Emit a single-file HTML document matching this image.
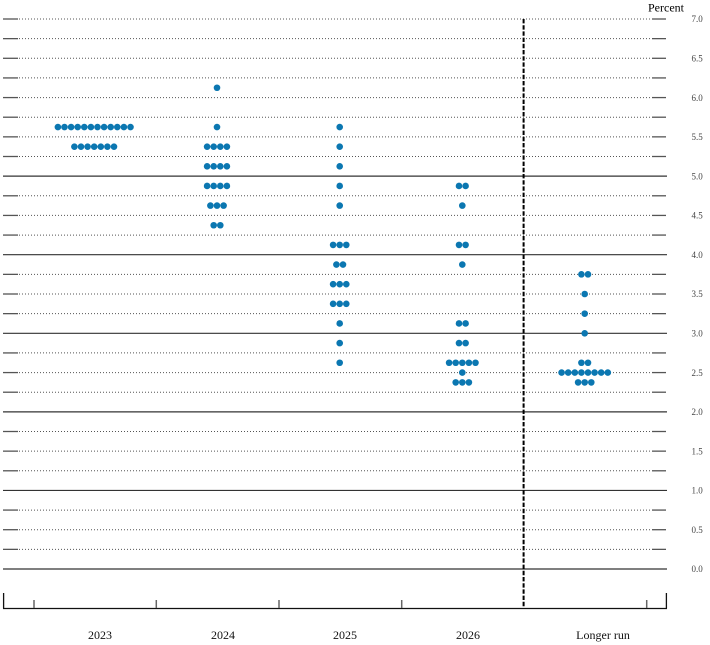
<!DOCTYPE html>
<html>
<head>
<meta charset="utf-8">
<style>
html,body{margin:0;padding:0;background:#fff;}
svg{display:block;}
text{font-family:"Liberation Serif",serif;}
</style>
</head>
<body>
<svg width="710" height="645" viewBox="0 0 710 645" xmlns="http://www.w3.org/2000/svg">
<rect width="710" height="645" fill="#fff"/>
<g id="grid" stroke-width="1">
<!-- dotted lines -->
<g stroke="#555" stroke-dasharray="1,2">
<line x1="19" x2="652" y1="19" y2="19"/>
<line x1="19" x2="652" y1="38.64" y2="38.64"/>
<line x1="19" x2="652" y1="58.29" y2="58.29"/>
<line x1="19" x2="652" y1="77.93" y2="77.93"/>
<line x1="19" x2="652" y1="97.57" y2="97.57"/>
<line x1="19" x2="652" y1="117.21" y2="117.21"/>
<line x1="19" x2="652" y1="136.86" y2="136.86"/>
<line x1="19" x2="652" y1="156.5" y2="156.5"/>
<line x1="19" x2="652" y1="195.79" y2="195.79"/>
<line x1="19" x2="652" y1="215.43" y2="215.43"/>
<line x1="19" x2="652" y1="235.07" y2="235.07"/>
<line x1="19" x2="652" y1="274.36" y2="274.36"/>
<line x1="19" x2="652" y1="294" y2="294"/>
<line x1="19" x2="652" y1="313.64" y2="313.64"/>
<line x1="19" x2="652" y1="352.93" y2="352.93"/>
<line x1="19" x2="652" y1="372.57" y2="372.57"/>
<line x1="19" x2="652" y1="392.21" y2="392.21"/>
<line x1="19" x2="652" y1="431.5" y2="431.5"/>
<line x1="19" x2="652" y1="451.14" y2="451.14"/>
<line x1="19" x2="652" y1="470.79" y2="470.79"/>
<line x1="19" x2="652" y1="510.07" y2="510.07"/>
<line x1="19" x2="652" y1="529.71" y2="529.71"/>
<line x1="19" x2="652" y1="549.36" y2="549.36"/>
</g>
<!-- solid integer lines -->
<g stroke="#333" stroke-width="1.2">
<line x1="3" x2="667" y1="176.14" y2="176.14"/>
<line x1="3" x2="667" y1="254.71" y2="254.71"/>
<line x1="3" x2="667" y1="333.29" y2="333.29"/>
<line x1="3" x2="667" y1="411.86" y2="411.86"/>
<line x1="3" x2="667" y1="490.43" y2="490.43"/>
<line x1="3" x2="667" y1="569" y2="569"/>
</g>
<!-- left & right ticks -->
<g stroke="#555" stroke-width="1.3">
<line x1="3" x2="18" y1="19" y2="19"/><line x1="652" x2="666" y1="19" y2="19"/>
<line x1="3" x2="18" y1="38.64" y2="38.64"/><line x1="652" x2="666" y1="38.64" y2="38.64"/>
<line x1="3" x2="18" y1="58.29" y2="58.29"/><line x1="652" x2="666" y1="58.29" y2="58.29"/>
<line x1="3" x2="18" y1="77.93" y2="77.93"/><line x1="652" x2="666" y1="77.93" y2="77.93"/>
<line x1="3" x2="18" y1="97.57" y2="97.57"/><line x1="652" x2="666" y1="97.57" y2="97.57"/>
<line x1="3" x2="18" y1="117.21" y2="117.21"/><line x1="652" x2="666" y1="117.21" y2="117.21"/>
<line x1="3" x2="18" y1="136.86" y2="136.86"/><line x1="652" x2="666" y1="136.86" y2="136.86"/>
<line x1="3" x2="18" y1="156.5" y2="156.5"/><line x1="652" x2="666" y1="156.5" y2="156.5"/>
<line x1="3" x2="18" y1="195.79" y2="195.79"/><line x1="652" x2="666" y1="195.79" y2="195.79"/>
<line x1="3" x2="18" y1="215.43" y2="215.43"/><line x1="652" x2="666" y1="215.43" y2="215.43"/>
<line x1="3" x2="18" y1="235.07" y2="235.07"/><line x1="652" x2="666" y1="235.07" y2="235.07"/>
<line x1="3" x2="18" y1="274.36" y2="274.36"/><line x1="652" x2="666" y1="274.36" y2="274.36"/>
<line x1="3" x2="18" y1="294" y2="294"/><line x1="652" x2="666" y1="294" y2="294"/>
<line x1="3" x2="18" y1="313.64" y2="313.64"/><line x1="652" x2="666" y1="313.64" y2="313.64"/>
<line x1="3" x2="18" y1="352.93" y2="352.93"/><line x1="652" x2="666" y1="352.93" y2="352.93"/>
<line x1="3" x2="18" y1="372.57" y2="372.57"/><line x1="652" x2="666" y1="372.57" y2="372.57"/>
<line x1="3" x2="18" y1="392.21" y2="392.21"/><line x1="652" x2="666" y1="392.21" y2="392.21"/>
<line x1="3" x2="18" y1="431.5" y2="431.5"/><line x1="652" x2="666" y1="431.5" y2="431.5"/>
<line x1="3" x2="18" y1="451.14" y2="451.14"/><line x1="652" x2="666" y1="451.14" y2="451.14"/>
<line x1="3" x2="18" y1="470.79" y2="470.79"/><line x1="652" x2="666" y1="470.79" y2="470.79"/>
<line x1="3" x2="18" y1="510.07" y2="510.07"/><line x1="652" x2="666" y1="510.07" y2="510.07"/>
<line x1="3" x2="18" y1="529.71" y2="529.71"/><line x1="652" x2="666" y1="529.71" y2="529.71"/>
<line x1="3" x2="18" y1="549.36" y2="549.36"/><line x1="652" x2="666" y1="549.36" y2="549.36"/>
</g>
</g>

<!-- bottom axis -->
<g stroke="#111" stroke-width="1.3" fill="none">
<line x1="3" x2="667" y1="608.5" y2="608.5"/>
<line x1="3.6" x2="3.6" y1="593" y2="608.5"/>
<line x1="666.4" x2="666.4" y1="593" y2="608.5"/>
</g>
<g stroke="#666" stroke-width="1.5">
<line x1="34" x2="34" y1="600" y2="608"/>
<line x1="156.3" x2="156.3" y1="600" y2="608"/>
<line x1="279" x2="279" y1="600" y2="608"/>
<line x1="401.7" x2="401.7" y1="600" y2="608"/>
<line x1="646.7" x2="646.7" y1="600" y2="608"/>
</g>

<!-- dashed divider -->
<line x1="523.6" x2="523.6" y1="19" y2="608" stroke="#000" stroke-width="2" stroke-dasharray="4.4,1.8"/>

<!-- y labels -->
<g font-size="9" fill="#444">
<text x="691.5" y="22.2">7.0</text>
<text x="691.5" y="61.5">6.5</text>
<text x="691.5" y="100.8">6.0</text>
<text x="691.5" y="140.1">5.5</text>
<text x="691.5" y="179.3">5.0</text>
<text x="691.5" y="218.6">4.5</text>
<text x="691.5" y="257.9">4.0</text>
<text x="691.5" y="297.2">3.5</text>
<text x="691.5" y="336.5">3.0</text>
<text x="691.5" y="375.8">2.5</text>
<text x="691.5" y="415.1">2.0</text>
<text x="691.5" y="454.3">1.5</text>
<text x="691.5" y="493.6">1.0</text>
<text x="691.5" y="532.9">0.5</text>
<text x="691.5" y="572.2">0.0</text>
</g>
<text x="648" y="11.5" font-size="12" fill="#000">Percent</text>

<!-- x labels -->
<g font-size="12" fill="#111" text-anchor="middle">
<text x="100" y="639">2023</text>
<text x="223" y="639">2024</text>
<text x="345" y="639">2025</text>
<text x="468" y="639">2026</text>
<text x="603" y="639">Longer run</text>
</g>

<!-- dots -->
<g fill="#0b77b1">
<!-- 2023 -->
<circle cx="57.9" cy="127.04" r="3.3"/><circle cx="64.5" cy="127.04" r="3.3"/><circle cx="71.1" cy="127.04" r="3.3"/><circle cx="77.7" cy="127.04" r="3.3"/><circle cx="84.3" cy="127.04" r="3.3"/><circle cx="90.9" cy="127.04" r="3.3"/><circle cx="97.5" cy="127.04" r="3.3"/><circle cx="104.1" cy="127.04" r="3.3"/><circle cx="110.7" cy="127.04" r="3.3"/><circle cx="117.3" cy="127.04" r="3.3"/><circle cx="123.9" cy="127.04" r="3.3"/><circle cx="130.5" cy="127.04" r="3.3"/>
<circle cx="74.4" cy="146.68" r="3.3"/><circle cx="81" cy="146.68" r="3.3"/><circle cx="87.6" cy="146.68" r="3.3"/><circle cx="94.2" cy="146.68" r="3.3"/><circle cx="100.8" cy="146.68" r="3.3"/><circle cx="107.4" cy="146.68" r="3.3"/><circle cx="114" cy="146.68" r="3.3"/>
<!-- 2024 -->
<circle cx="217" cy="87.75" r="3.3"/>
<circle cx="217" cy="127.04" r="3.3"/>
<circle cx="207.1" cy="146.68" r="3.3"/><circle cx="213.7" cy="146.68" r="3.3"/><circle cx="220.3" cy="146.68" r="3.3"/><circle cx="226.9" cy="146.68" r="3.3"/>
<circle cx="207.1" cy="166.32" r="3.3"/><circle cx="213.7" cy="166.32" r="3.3"/><circle cx="220.3" cy="166.32" r="3.3"/><circle cx="226.9" cy="166.32" r="3.3"/>
<circle cx="207.1" cy="185.96" r="3.3"/><circle cx="213.7" cy="185.96" r="3.3"/><circle cx="220.3" cy="185.96" r="3.3"/><circle cx="226.9" cy="185.96" r="3.3"/>
<circle cx="210.4" cy="205.61" r="3.3"/><circle cx="217" cy="205.61" r="3.3"/><circle cx="223.6" cy="205.61" r="3.3"/>
<circle cx="213.7" cy="225.25" r="3.3"/><circle cx="220.3" cy="225.25" r="3.3"/>
<!-- 2025 -->
<circle cx="339.7" cy="127.04" r="3.3"/>
<circle cx="339.7" cy="146.68" r="3.3"/>
<circle cx="339.7" cy="166.32" r="3.3"/>
<circle cx="339.7" cy="185.96" r="3.3"/>
<circle cx="339.7" cy="205.61" r="3.3"/>
<circle cx="333.1" cy="244.89" r="3.3"/><circle cx="339.7" cy="244.89" r="3.3"/><circle cx="346.3" cy="244.89" r="3.3"/>
<circle cx="336.4" cy="264.54" r="3.3"/><circle cx="343" cy="264.54" r="3.3"/>
<circle cx="333.1" cy="284.18" r="3.3"/><circle cx="339.7" cy="284.18" r="3.3"/><circle cx="346.3" cy="284.18" r="3.3"/>
<circle cx="333.1" cy="303.82" r="3.3"/><circle cx="339.7" cy="303.82" r="3.3"/><circle cx="346.3" cy="303.82" r="3.3"/>
<circle cx="339.7" cy="323.46" r="3.3"/>
<circle cx="339.7" cy="343.11" r="3.3"/>
<circle cx="339.7" cy="362.75" r="3.3"/>
<!-- 2026 -->
<circle cx="459" cy="185.96" r="3.3"/><circle cx="465.6" cy="185.96" r="3.3"/>
<circle cx="462.3" cy="205.61" r="3.3"/>
<circle cx="459" cy="244.89" r="3.3"/><circle cx="465.6" cy="244.89" r="3.3"/>
<circle cx="462.3" cy="264.54" r="3.3"/>
<circle cx="459" cy="323.46" r="3.3"/><circle cx="465.6" cy="323.46" r="3.3"/>
<circle cx="459" cy="343.11" r="3.3"/><circle cx="465.6" cy="343.11" r="3.3"/>
<circle cx="449.1" cy="362.75" r="3.3"/><circle cx="455.7" cy="362.75" r="3.3"/><circle cx="462.3" cy="362.75" r="3.3"/><circle cx="468.9" cy="362.75" r="3.3"/><circle cx="475.5" cy="362.75" r="3.3"/>
<circle cx="462.3" cy="372.57" r="3.3"/>
<circle cx="455.7" cy="382.39" r="3.3"/><circle cx="462.3" cy="382.39" r="3.3"/><circle cx="468.9" cy="382.39" r="3.3"/>
<!-- Longer run -->
<circle cx="581.4" cy="274.36" r="3.3"/><circle cx="588" cy="274.36" r="3.3"/>
<circle cx="584.7" cy="294" r="3.3"/>
<circle cx="584.7" cy="313.64" r="3.3"/>
<circle cx="584.7" cy="333.29" r="3.3"/>
<circle cx="581.4" cy="362.75" r="3.3"/><circle cx="588" cy="362.75" r="3.3"/>
<circle cx="561.6" cy="372.57" r="3.3"/><circle cx="568.2" cy="372.57" r="3.3"/><circle cx="574.8" cy="372.57" r="3.3"/><circle cx="581.4" cy="372.57" r="3.3"/><circle cx="588" cy="372.57" r="3.3"/><circle cx="594.6" cy="372.57" r="3.3"/><circle cx="601.2" cy="372.57" r="3.3"/><circle cx="607.8" cy="372.57" r="3.3"/>
<circle cx="578.1" cy="382.39" r="3.3"/><circle cx="584.7" cy="382.39" r="3.3"/><circle cx="591.3" cy="382.39" r="3.3"/>
</g>
</svg>
</body>
</html>
